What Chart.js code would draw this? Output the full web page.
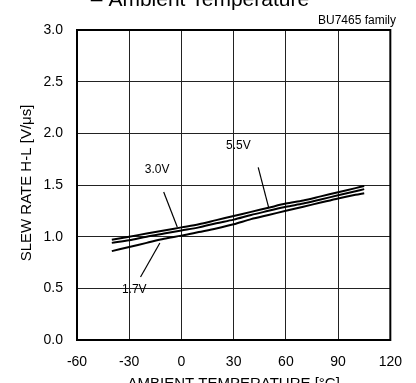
<!DOCTYPE html>
<html><head><meta charset="utf-8">
<script src="https://cdn.jsdelivr.net/npm/chart.js@4"></script>
<style>html,body{margin:0;padding:0;background:#fff}canvas{display:block}</style>
</head><body>
<canvas id="c" width="416" height="383"></canvas>
<script>
const temps = [-40,-30,-20,-10,0,10,20,30,40,50,60,70,80,90,100,105];
const v55 = [0.97,1.00,1.03,1.06,1.09,1.12,1.16,1.20,1.24,1.28,1.32,1.35,1.39,1.43,1.47,1.49];
const v30 = [0.94,0.965,1.00,1.03,1.06,1.09,1.13,1.165,1.21,1.25,1.29,1.32,1.36,1.40,1.44,1.46];
const v17 = [0.86,0.90,0.94,0.98,1.01,1.045,1.08,1.12,1.17,1.21,1.25,1.29,1.33,1.37,1.405,1.42];
const xTicks = [-60,-30,0,30,60,90,120];
const yTicks = [0.0,0.5,1.0,1.5,2.0,2.5,3.0];
const seriesNames = ['5.5V','3.0V','1.7V'];
// callouts: label anchor and leader line, in data units
const callouts = [
  {text:'5.5V', at:[32.7,1.88], line:[[44.1,1.67],[50.2,1.277]]},
  {text:'3.0V', at:[-14.0,1.65], line:[[-10.2,1.432],[-2.4,1.094]]},
  {text:'1.7V', at:[-27.1,0.49], line:[[-12.4,0.939],[-23.5,0.61]]}
];
const FONT = 'Liberation Sans, Arial, sans-serif';
const mk = (arr)=>temps.map((t,i)=>({x:t,y:arr[i]}));
const deco = {
  id:'deco',
  afterDatasetsDraw(chart){
    const {ctx, chartArea:a, scales:{x,y}} = chart;
    ctx.save();
    ctx.strokeStyle='#000'; ctx.lineWidth=2;
    ctx.strokeRect(a.left, a.top, a.right-a.left, a.bottom-a.top);
    ctx.lineWidth=1.2;
    ctx.fillStyle='#000';
    ctx.font='12px '+FONT; ctx.textAlign='center'; ctx.textBaseline='middle';
    callouts.forEach(c=>{
      ctx.beginPath();
      ctx.moveTo(x.getPixelForValue(c.line[0][0]), y.getPixelForValue(c.line[0][1]));
      ctx.lineTo(x.getPixelForValue(c.line[1][0]), y.getPixelForValue(c.line[1][1]));
      ctx.stroke();
      ctx.fillText(c.text, x.getPixelForValue(c.at[0]), y.getPixelForValue(c.at[1]));
    });
    ctx.font='21px '+FONT; ctx.textBaseline='alphabetic';
    ctx.fillText('\u2013 Ambient Temperature', 200, 6);
    ctx.font='12px '+FONT; ctx.textAlign='right';
    ctx.fillText('BU7465 family', 396, 24);
    ctx.font='15px '+FONT; ctx.textAlign='center';
    ctx.fillText('AMBIENT TEMPERATURE [\u00B0C]', (a.left+a.right)/2, 388);
    ctx.restore();
  }
};
new Chart(document.getElementById('c'), {
  type:'line',
  data:{datasets:[
    {label:seriesNames[0], data:mk(v55)},
    {label:seriesNames[1], data:mk(v30)},
    {label:seriesNames[2], data:mk(v17)}
  ].map(d=>Object.assign(d,{borderColor:'#000',borderWidth:2,pointRadius:0,tension:0.3,fill:false}))},
  options:{
    responsive:false, animation:false, events:[],
    layout:{padding:{top:30,right:14,left:0,bottom:0}},
    plugins:{legend:{display:false},tooltip:{enabled:false}},
    scales:{
      x:{type:'linear',min:-60,max:120,
        afterFit(s){s.height=43;},
        afterBuildTicks(s){s.ticks=xTicks.map(v=>({value:v}));},
        grid:{color:'#222',lineWidth:1,drawTicks:false},
        border:{display:false},
        ticks:{color:'#000',font:{family:FONT,size:14},padding:14,maxRotation:0,callback:v=>String(v)}
      },
      y:{type:'linear',min:0,max:3,
        afterFit(s){s.width=77;},
        afterBuildTicks(s){s.ticks=yTicks.map(v=>({value:v}));},
        grid:{color:'#222',lineWidth:1,drawTicks:false},
        border:{display:false},
        ticks:{color:'#000',font:{family:FONT,size:14},padding:14,callback:v=>v.toFixed(1)},
        title:{display:false}
      }
    }
  },
  plugins:[deco,{
    id:'ytitle',
    afterDraw(chart){
      const {ctx, chartArea:a}=chart;
      ctx.save();
      ctx.translate(27,(a.top+a.bottom)/2-2);
      ctx.rotate(-Math.PI/2);
      ctx.font='15px '+FONT; ctx.fillStyle='#000'; ctx.textAlign='center'; ctx.textBaseline='middle';
      ctx.fillText('SLEW RATE H-L [V/\u03BCs]',0,0);
      ctx.restore();
    }
  }]
});
</script>
</body></html>
